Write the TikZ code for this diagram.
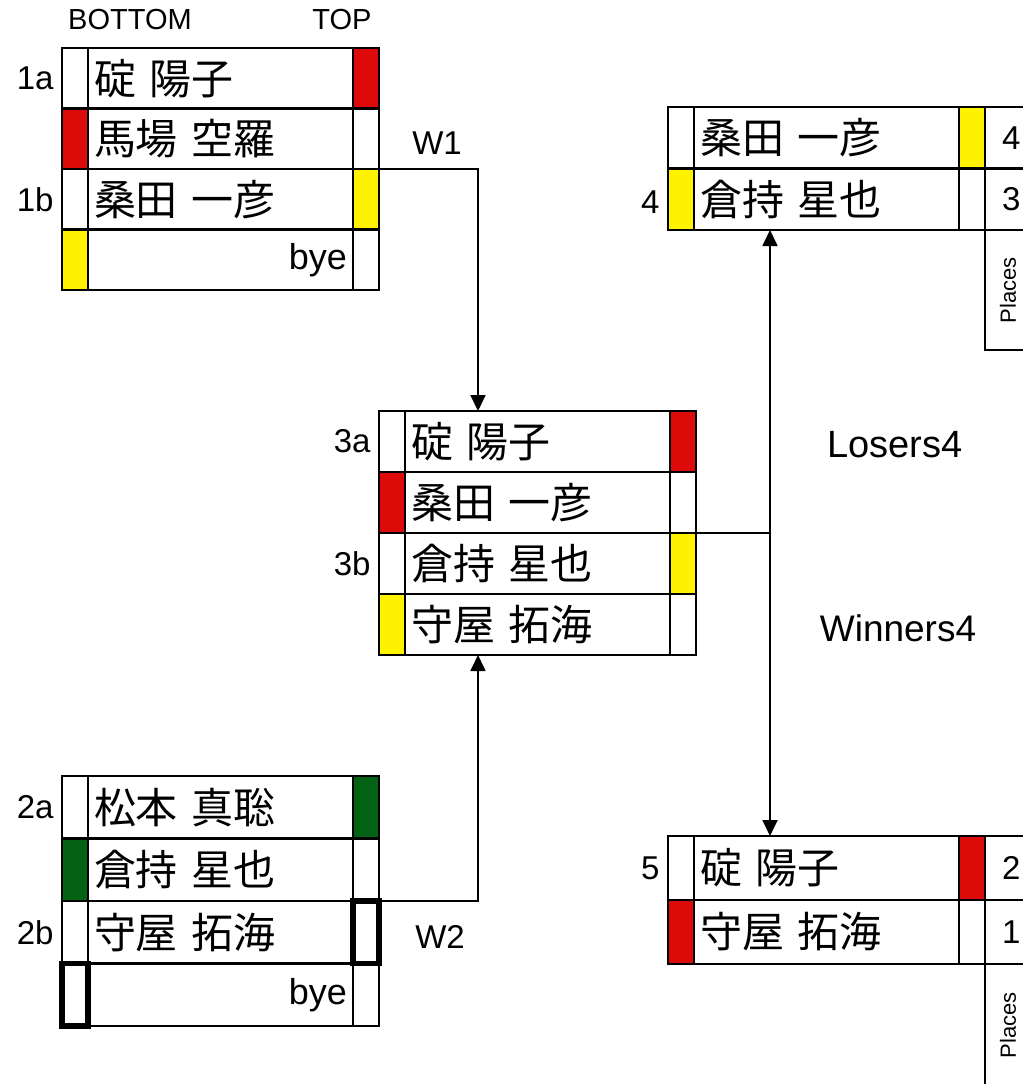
\documentclass[tikz,border=0pt]{standalone}
\usepackage{fontspec}
\setmainfont{Liberation Sans}
\newfontfamily\cjk[WordSpace=2.3]{Noto Sans CJK JP}
\usetikzlibrary{arrows.meta,calc}
\definecolor{wred}{RGB}{221,10,10}
\definecolor{wyel}{RGB}{255,242,0}
\definecolor{wgrn}{RGB}{3,98,20}
\newcommand\brow[7]{%
  \node[side, fill=#5, minimum height=#4] (#1L) at (#2,#3) {};
  \node[nm, minimum height=#4] (#1) at (#1L.north east) {#6};
  \node[side, fill=#7, minimum height=#4] (#1R) at (#1.north east) {};
}
\newcommand\byetext{\hfill{\fontspec{Liberation Sans}\fontsize{18}{18}\selectfont bye}}
\begin{document}
\begin{tikzpicture}[x=0.5pt,y=-0.5pt,
  side/.style={draw, line width=1.1pt, minimum width=13pt, inner sep=0pt, outer sep=0pt, anchor=north west},
  nm/.style={draw, line width=1.1pt, minimum width=132.5pt, text width=126.5pt, inner xsep=3pt, inner ysep=0pt, outer sep=0pt, anchor=north west, align=left, font=\cjk\fontsize{21}{22}\selectfont},
  place/.style={draw, line width=1.1pt, minimum width=60pt, text width=43pt, inner xsep=8.5pt, inner ysep=0pt, outer sep=0pt, anchor=north west, align=left, font=\fontsize{16.5}{16.5}\selectfont},
  lab/.style={inner sep=0pt, anchor=east, xshift=-4pt, font=\fontsize{16.5}{16.5}\selectfont},
  txt/.style={inner sep=0pt},
  conn/.style={line width=0.9pt},
  tip/.style={-{Triangle[length=8pt,width=7.5pt]}},
  tips/.style={{Triangle[length=8pt,width=7.5pt]}-{Triangle[length=8pt,width=7.5pt]}},
  thick cell/.style={draw, line width=2.6pt}
]
\path[use as bounding box] (0,0) rectangle (1023,1084);
\clip (0,0) rectangle (1023,1084);
\fill[white] (0,0) rectangle (1023,1084);

% header
\node[txt, font=\fontsize{14.5}{14.5}\selectfont] (hb) at (130,20) {BOTTOM};
\node[txt, font=\fontsize{14.5}{14.5}\selectfont] (ht) at (342,20) {TOP};

% box 1
\brow{ba}{62}{48}{30.25pt}{white}{碇 陽子}{wred}
\brow{bb}{62}{108.5}{30.25pt}{wred}{馬場 空羅}{white}
\brow{bc}{62}{169}{30.25pt}{white}{桑田 一彦}{wyel}
\brow{bd}{62}{229.5}{30.25pt}{wyel}{\byetext}{white}
\node[lab] (l1a) at (baL.west) {1a};
\node[lab] (l1b) at (bcL.west) {1b};

% box 3
\brow{ca}{379}{411}{30.5pt}{white}{碇 陽子}{wred}
\brow{cb}{379}{472}{30.5pt}{wred}{桑田 一彦}{white}
\brow{cc}{379}{533}{30.5pt}{white}{倉持 星也}{wyel}
\brow{cd}{379}{594}{30.5pt}{wyel}{守屋 拓海}{white}
\node[lab] (l3a) at (caL.west) {3a};
\node[lab] (l3b) at (ccL.west) {3b};

% box 2
\brow{da}{62}{776}{31.25pt}{white}{松本 真聡}{wgrn}
\brow{db}{62}{838.5}{31.25pt}{wgrn}{倉持 星也}{white}
\brow{dc}{62}{901}{31.25pt}{white}{守屋 拓海}{white}
\brow{dd}{62}{963.5}{31.25pt}{white}{\byetext}{white}
\node[lab] (l2a) at (daL.west) {2a};
\node[lab] (l2b) at (dcL.west) {2b};
\draw[thick cell] (dcR.north west) rectangle (dcR.south east);
\draw[thick cell] (ddL.north west) rectangle (ddL.south east);

% box 4
\brow{ea}{668}{107}{30.75pt}{white}{桑田 一彦}{wyel}
\brow{eb}{668}{168.5}{30.75pt}{wyel}{倉持 星也}{white}
\node[place, minimum height=30.75pt] (pa) at (eaR.north east) {4};
\node[place, minimum height=30.75pt] (pb) at (ebR.north east) {3};
\node[place, minimum height=60pt] (pc) at (pb.south west) {};
\node[txt, rotate=90, font=\fontsize{11}{11}\selectfont] (pct) at (1008,290) {Places};
\node[lab, yshift=-1.5pt] (l4) at (ebL.west) {4};

% box 5
\brow{fa}{668}{836}{32pt}{white}{碇 陽子}{wred}
\brow{fb}{668}{900}{32pt}{wred}{守屋 拓海}{white}
\node[place, minimum height=32pt] (qa) at (faR.north east) {2};
\node[place, minimum height=32pt] (qb) at (fbR.north east) {1};
\node[place, minimum height=90pt] (qc) at (qb.south west) {};
\node[txt, rotate=90, font=\fontsize{11}{11}\selectfont] (qct) at (1008,1025) {Places};
\node[lab] (l5) at (faL.west) {5};

% connectors
\coordinate (w1end) at (478,411);
\coordinate (w2end) at (478,655);
\coordinate (lw) at (770,533);
\draw[conn,tip] (bcR.north east) -| (w1end);
\draw[conn,tip] (dcR.north east) -| (w2end);
\draw[conn] (ccR.north east) -- (lw);
\draw[conn,tips] (eb.south -| lw) -- (fa.north -| lw);

% labels
\node[txt, font=\fontsize{16.5}{16.5}\selectfont] (w1) at (437,143) {W1};
\node[txt, font=\fontsize{16.5}{16.5}\selectfont] (w2) at (440,937) {W2};
\node[txt, font=\fontsize{19}{19}\selectfont] (los) at (895,445) {Losers4};
\node[txt, font=\fontsize{18.5}{18.5}\selectfont] (win) at (898,628) {Winners4};
\end{tikzpicture}
\end{document}
